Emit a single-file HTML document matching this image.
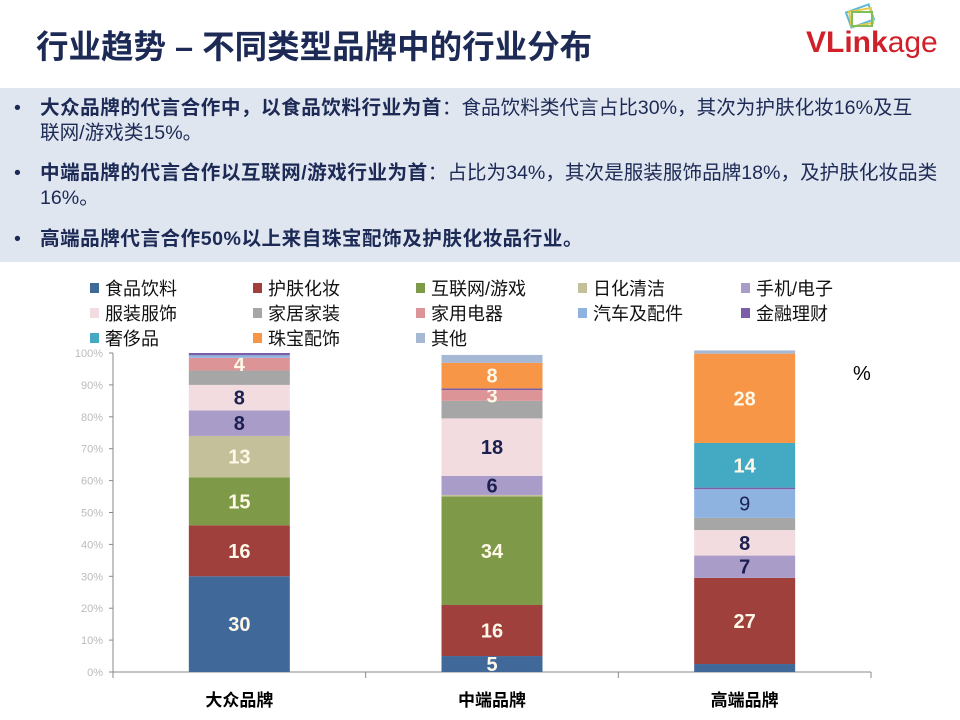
<!DOCTYPE html>
<html><head><meta charset="utf-8">
<style>
body{margin:0;width:960px;height:720px;background:#fff;overflow:hidden;font-family:"Liberation Sans","Noto Sans CJK SC",sans-serif;position:relative}
#title{position:absolute;left:36px;top:21px;font-size:32.5px;font-weight:bold;color:#1c2a55;letter-spacing:0px}
#logo{position:absolute;left:806px;top:26px;font-size:30px;color:#d0202a;font-family:"Liberation Sans",sans-serif}
#panel{position:absolute;left:0;top:88px;width:960px;height:174px;background:#dfe6f0}
.b{position:absolute;left:14px;font-size:19.6px;color:#1c2a55;line-height:25px;width:946px;white-space:nowrap}
.b .d{position:absolute;left:0;top:0}
.b .t{margin-left:26px;display:block}
.b strong{font-weight:bold;letter-spacing:0.5px}
</style></head><body>
<div id="title">行业趋势 – 不同类型品牌中的行业分布</div>
<div id="logo"><svg width="40" height="30" style="position:absolute;left:34px;top:-24px"><rect x="8" y="6" width="24" height="16" fill="none" stroke="#5bb8d6" stroke-width="2" transform="rotate(-20 20 14)"/><rect x="10" y="8" width="22" height="15" fill="none" stroke="#e6c84a" stroke-width="2" transform="rotate(-10 20 14)"/><rect x="12" y="10" width="20" height="14" fill="none" stroke="#7fbf5a" stroke-width="2"/></svg><b>VLink</b>age</div>
<div id="panel">
<div class="b" style="top:8px"><span class="d">•</span><span class="t"><strong>大众品牌的代言合作中，以食品饮料行业为首</strong>：食品饮料类代言占比30%，其次为护肤化妆16%及互<br>联网/游戏类15%。</span></div>
<div class="b" style="top:73px"><span class="d">•</span><span class="t"><strong>中端品牌的代言合作以互联网/游戏行业为首</strong>：占比为34%，其次是服装服饰品牌18%，及护肤化妆品类<br>16%。</span></div>
<div class="b" style="top:139px"><span class="d">•</span><span class="t"><strong>高端品牌代言合作50%以上来自珠宝配饰及护肤化妆品行业。</strong></span></div>
</div>
<svg id="chart" width="960" height="720" style="position:absolute;left:0;top:0"></svg>
<script>
const categories=["大众品牌","中端品牌","高端品牌"];
const seriesNames=["食品饮料","护肤化妆","互联网/游戏","日化清洁","手机/电子","服装服饰","家居家装","家用电器","汽车及配件","金融理财","奢侈品","珠宝配饰","其他"];
const colors=["#40699a","#a0403d","#7e9a48","#c4c09a","#aa9cc8","#f2dcdf","#a6a6a6","#dc9496","#8fb3e0","#7b5ea7","#44aac4","#f79646","#a6b8d4"];
const food=[30,5,2.5];
const skincare=[16,16,27];
const internet=[15,34,0];
const daily=[13,0.5,0];
const phone=[8,6,7];
const clothing=[8,18,8];
const home=[4.5,5.5,3.8];
const appliance=[4,3.4,0];
const auto=[0.8,0,9];
const finance=[0.7,0.5,0.5];
const luxury=[0,0,14];
const jewelry=[0,8,28];
const other=[0,2.5,1];
const yTicks=[0,10,20,30,40,50,60,70,80,90,100];
const labels=[["30","16","15","13","8","8","","4","","","","",""],["5","16","34","","6","18","","3","","","","8",""],["","27","","","7","8","","","9","","14","28",""]];
const series=[food,skincare,internet,daily,phone,clothing,home,appliance,auto,finance,luxury,jewelry,other];
const darkLabel=[4,5,8];
const NS="http://www.w3.org/2000/svg";
const svg=document.getElementById('chart');
const x0=113,x1=871,y0=672,y1=353,barW=101;
const y=v=>y0-(v/100)*(y0-y1);
const band=(x1-x0)/categories.length;
const xc=i=>x0+band*(i+0.5);
function mk(t,a){const e=document.createElementNS(NS,t);for(const k in a)e.setAttribute(k,a[k]);svg.appendChild(e);return e;}
let ax=mk('line',{x1:x0,y1:y1,x2:x0,y2:y0,stroke:'#888'});

let bx=mk('line',{x1:x0,y1:y0,x2:x1,y2:y0,stroke:'#888'});

yTicks.forEach(t=>{
 const tk=mk('line',{x1:x0-4,y1:y(t),x2:x0,y2:y(t),stroke:'#888'});
 
 const tx=mk('text',{x:x0-10,y:y(t)+4,'text-anchor':'end','font-size':11,fill:'#bbb'});
 tx.textContent=t+'%';
 
});
for(let i=0;i<=categories.length;i++){
 const tk=mk('line',{x1:x0+band*i,y1:y0,x2:x0+band*i,y2:y0+6,stroke:'#888'});
 
}
categories.forEach((c,i)=>{
 let acc=0;
 series.forEach((s,k)=>{
  const v=s[i];if(v<=0)return;
  const r=mk('rect',{x:xc(i)-barW/2,y:y(acc+v),width:barW,height:y(acc)-y(acc+v),fill:colors[k]});
  
  const lb=labels[i][k];
  if(lb){
   const t=mk('text',{x:xc(i),y:(y(acc)+y(acc+v))/2+7,'text-anchor':'middle','font-size':20,'font-weight':(i==2&&k==8)?'normal':'bold',fill:darkLabel.includes(k)?'#1c2050':'#fdf8e8'});
   t.textContent=lb;
   
  }
  acc+=v;
 });
 const t=mk('text',{x:xc(i),y:706,'text-anchor':'middle','font-size':17,'font-weight':'bold',fill:'#000'});
 t.textContent=c;
 
});
const pc=mk('text',{x:853,y:380,'font-size':20,fill:'#000'});pc.textContent='%';

const legX=[90,253,416,578,741],legY=[288,313,338];
seriesNames.forEach((n,k)=>{
 const cx=legX[k%5],cy=legY[Math.floor(k/5)];
 const r=mk('rect',{x:cx,y:cy-5,width:9,height:10,fill:colors[k]});
 
 const t=mk('text',{x:cx+15,y:cy+7,'font-size':18,fill:'#111'});t.textContent=n;
 
});
</script>
</body></html>
